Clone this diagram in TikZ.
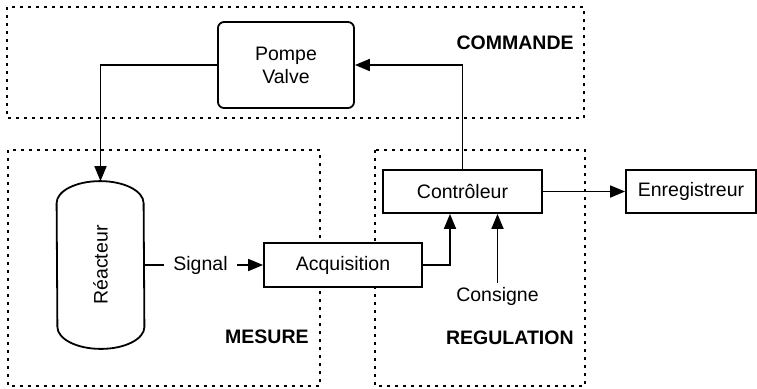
\documentclass[tikz,border=0pt]{standalone}
\usepackage{fontspec}
\setmainfont{Liberation Sans}
\usetikzlibrary{positioning,calc,arrows.meta}

\begin{document}
\begin{tikzpicture}[x=0.5pt, y=-0.5pt,
    font=\fontsize{9.75}{11.5}\selectfont,
    zone/.style={line width=0.8pt, dash pattern=on 1.5pt off 2.5pt},
    block/.style={draw, fill=white, line width=0.9pt, inner sep=0pt, minimum height=21.5pt},
    arr/.style={line width=0.9pt, -{Triangle[length=7.5pt,width=6pt]}},
    zonelabel/.style={font=\fontsize{9.75}{11.5}\selectfont\bfseries, anchor=east, inner sep=0pt}]
    \useasboundingbox (0,0) rectangle (757,388);

    % Dotted zones
    \foreach \a/\b in {{(7,7)}/{(584,118)}, {(8,150)}/{(320,386)}, {(375,150)}/{(585,386)}} {
        \draw [zone] \a rectangle \b;
    }
    \node [zonelabel] (lcommande) at (574,43) {COMMANDE};
    \node [zonelabel] (lmesure) at (309,337) {MESURE};
    \node [zonelabel] (lregulation) at (574,338) {REGULATION};

    % Blocks
    \node [block, rounded corners=3pt, align=center, minimum width=68pt, minimum height=43pt] (pompe) at (286,65) {Pompe\\Valve};
    \node [minimum width=43.5pt, minimum height=83.5pt, inner sep=0pt,
           label={[rotate=90]center:Réacteur}] (reacteur) at (100.5,265) {};
    \draw [line width=0.9pt] ([yshift=-11pt]reacteur.north west)
        arc [start angle=180, end angle=0, x radius=21.75pt, y radius=11pt]
        -- ([yshift=11pt]reacteur.south east)
        arc [start angle=0, end angle=-180, x radius=21.75pt, y radius=11pt] -- cycle;
    \node [inner sep=4.5pt] (signal) at (200.5,265) {Signal};
    \node [block, minimum width=79pt, minimum height=22pt] (acquisition) at (343,265) {Acquisition};
    \node [block, minimum width=79.5pt] (controleur) at (462.5,191.5) {Contrôleur};
    \node [block, minimum width=65pt] (enregistreur) at (691,191.5) {Enregistreur};
    \node [inner sep=2pt] (consigne) at (497.5,296) {Consigne};

    % Connections
    \draw [arr] (pompe.west) -| (reacteur.north);
    \draw [line width=0.9pt] (reacteur.east) -- (signal.west);
    \draw [arr] (signal) -- (acquisition);
    \draw [arr] (acquisition.east) -| ([xshift=-6.25pt]controleur.south);
    \draw [arr] (consigne.north) -- (consigne.north |- controleur.south);
    \draw [arr] (controleur) -- (enregistreur);
    \draw [arr] (controleur.north) |- (pompe.east);
\end{tikzpicture}
\end{document}
